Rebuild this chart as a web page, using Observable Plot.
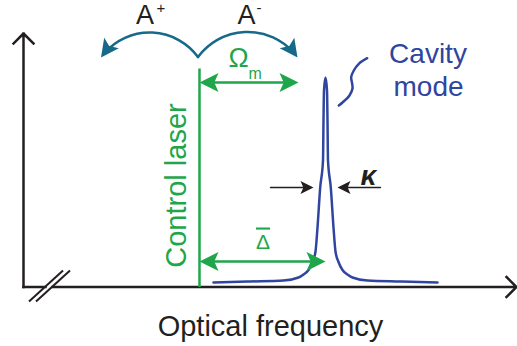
<!DOCTYPE html>
<html><head><meta charset="utf-8">
<script src="https://cdn.jsdelivr.net/npm/d3@7"></script>
<script src="https://cdn.jsdelivr.net/npm/@observablehq/plot@0.6"></script>
<style>body{margin:0;background:#fff}</style>
</head><body><div id="chart"></div>
<script>
// Units: optical frequency offset from the axis origin (x), amplitude above the axis (y)
// Cavity-mode resonance
const modeFreq = [190, 227, 260, 275, 280, 285, 289, 292, 294, 296.7, 299.5, 300, 300.5, 302, 303.5, 304, 304.5, 307.3, 310, 312, 315, 319, 324, 329, 344, 377, 414];
const modeAmp  = [4.5, 5.5, 6.5, 9.5, 12.5, 17, 25, 35.5, 59.5, 99.5, 126.5, 166.5, 196.5, 209.5, 196.5, 166.5, 126.5, 99.5, 59.5, 35.5, 25, 17, 12.5, 9.5, 6.5, 5.5, 4.5];
// Leader squiggle to the "Cavity mode" label
const leaderFreq = [343.7, 335.3, 330.3, 327.7, 328.7, 329, 326, 319, 315.3];
const leaderAmp  = [228.8, 223.2, 216.5, 209.8, 203.2, 198.5, 191.5, 184.5, 181.5];
// Control laser
const laserFreq = 176;
const laserTop = 218.5;
// Mechanical frequency span (Ω_m) and detuning span (Δ̄)
const omegaSpan = [176, 275];
const omegaAmp = 204.5;
const detuningSpan = [176, 302];
const detuningAmp = 25.5;
// Linewidth (κ) arrows: tail and tip
const kappaTail = [247, 357];
const kappaTip = [290, 314];
const kappaAmp = 99.5;
// Sideband arcs A+ / A-
const arcStart = [174.5, 230];
const arcEndFreq = [77.5, 274];
const arcEndAmp = 229.5;
const arcBend = [-54, 54];
// Axes
const yAxisTop = 253.5;
const xAxisEnd = 493;
const breakGap = [22, 29];
const breakSlashFreq = [[5.5, 39.5], [12.5, 46.5]];
const breakSlashAmp = [-14.5, 16.5];
// Labels
const sidebandLabels = ["A", "A"];
const sidebandLabelFreq = [121.5, 223];
const sidebandLabelAmp = 263.5;
const sidebandSigns = ["+", "-"];
const sidebandSignFreq = [133, 233];
const sidebandSignAmp = 274;
const modeLabels = ["Cavity", "mode"];
const modeLabelFreq = [404.5, 405];
const modeLabelAmp = [224.5, 191.5];

const black = "#231f20", green = "#1fa64b", blue = "#2f45a0", teal = "#17698a";
const font = "'Liberation Sans', Arial, Helvetica, sans-serif";

const arrowHead = {
  draw(context, size) {
    const l = Math.sqrt(size / Math.PI);
    const w = l * 0.5;
    context.moveTo(0, 0);
    context.lineTo(-w, l);
    context.lineTo(0, l * 0.78);
    context.lineTo(w, l);
    context.closePath();
  }
};
const rot = (dx, dyScreen) => Math.atan2(dx, -dyScreen) * 180 / Math.PI;

const mode = modeFreq.map((f, i) => ({f, a: modeAmp[i]}));
const leader = leaderFreq.map((f, i) => ({f, a: leaderAmp[i]}));
const spans = [
  {f1: omegaSpan[0], f2: omegaSpan[1], a: omegaAmp},
  {f1: detuningSpan[0], f2: detuningSpan[1], a: detuningAmp}
];
const greenHeads = spans.flatMap(s => [
  {f: s.f1, a: s.a, r: rot(-1, 0)},
  {f: s.f2, a: s.a, r: rot(1, 0)}
]);
const kappa = kappaTail.map((t, i) => ({f1: t, f2: kappaTip[i], a: kappaAmp}));
const kappaHeads = kappa.map(k => ({f: k.f2, a: k.a, r: rot(Math.sign(k.f2 - k.f1), 0)}));
const arcs = arcEndFreq.map((f, i) => ({f1: arcStart[0], a1: arcStart[1], f2: f, a2: arcEndAmp, bend: arcBend[i]}));
const arcHeads = arcs.map(d => {
  const ang = Math.atan2(-(d.a2 - d.a1), d.f2 - d.f1) + d.bend * Math.PI / 180;
  return {f: d.f2, a: d.a2, r: rot(Math.cos(ang), Math.sin(ang))};
});
const xAxisParts = [{f1: 0, f2: breakGap[0]}];
const slashes = breakSlashFreq.map(s => ({f1: s[0], f2: s[1], a1: breakSlashAmp[0], a2: breakSlashAmp[1]}));

const chart = Plot.plot({
  width: 517, height: 346,
  margin: 0,
  x: {domain: [-23, 494], axis: null},
  y: {domain: [-59.5, 286.5], axis: null},
  style: {background: "white", fontFamily: font, overflow: "visible"},
  marks: [
    // axes
    Plot.arrow([0], {x1: 0, y1: 0, x2: 0, y2: yAxisTop, stroke: black, strokeWidth: 2.5, headAngle: 90, headLength: 8.5, strokeLinejoin: "miter", strokeLinecap: "square"}),
    Plot.arrow([0], {x1: breakGap[1], y1: 0, x2: xAxisEnd, y2: 0, stroke: black, strokeWidth: 2.5, headAngle: 90, headLength: 8.5, strokeLinejoin: "miter", strokeLinecap: "square"}),
    Plot.link(xAxisParts, {x1: "f1", x2: "f2", y1: 0, y2: 0, stroke: black, strokeWidth: 2.5, strokeLinecap: "square"}),
    Plot.link(slashes, {x1: "f1", x2: "f2", y1: "a1", y2: "a2", stroke: black, strokeWidth: 2}),
    // control laser
    Plot.link([laserFreq], {x1: d => d, x2: d => d, y1: 0, y2: laserTop, stroke: green, strokeWidth: 2.5}),
    // cavity mode
    Plot.line(mode, {x: "f", y: "a", curve: "monotone-x", stroke: blue, strokeWidth: 2.5}),
    Plot.line(leader, {x: "f", y: "a", curve: "catmull-rom", stroke: blue, strokeWidth: 2.5}),
    // green double arrows
    Plot.arrow(spans, {x1: "f1", x2: "f2", y1: "a", y2: "a", stroke: green, strokeWidth: 2.5, headLength: 0, insetStart: 12, insetEnd: 12}),
    Plot.dot(greenHeads, {x: "f", y: "a", rotate: "r", symbol: arrowHead, r: 19, fill: green, stroke: "none"}),
    // kappa arrows
    Plot.arrow(kappa, {x1: "f1", x2: "f2", y1: "a", y2: "a", stroke: black, strokeWidth: 1.4, headLength: 0, insetEnd: 8}),
    Plot.dot(kappaHeads, {x: "f", y: "a", rotate: "r", symbol: arrowHead, r: 13, fill: black, stroke: "none"}),
    // sideband arcs (one mark per arc: bend is a constant option)
    ...arcs.map(d => Plot.arrow([d], {x1: "f1", y1: "a1", x2: "f2", y2: "a2", bend: d.bend, stroke: teal, strokeWidth: 2.5, headLength: 0, insetEnd: 6})),
    Plot.dot(arcHeads, {x: "f", y: "a", rotate: "r", symbol: arrowHead, r: 18, fill: teal, stroke: "none"}),
    // labels
    Plot.text(sidebandLabels, {x: (d, i) => sidebandLabelFreq[i], y: sidebandLabelAmp, text: d => d, fontSize: 27, fill: black, lineAnchor: "bottom"}),
    Plot.text(sidebandSigns, {x: (d, i) => sidebandSignFreq[i], y: sidebandSignAmp, text: d => d, fontSize: 15, fill: black, textAnchor: "start", lineAnchor: "bottom"}),
    Plot.text(["Ω"], {x: 215, y: 220, text: d => d, fontSize: 27, fill: green, lineAnchor: "bottom"}),
    Plot.text(["m"], {x: 225, y: 208.5, text: d => d, fontSize: 16, fill: green, textAnchor: "start", lineAnchor: "bottom"}),
    Plot.text(["Control laser"], {x: 162, y: 101.5, text: d => d, fontSize: 29, fill: green, rotate: -90, lineAnchor: "bottom"}),
    Plot.text(["Δ"], {x: 239.5, y: 38.5, text: d => d, fontSize: 21, fill: green, lineAnchor: "bottom"}),
    Plot.text(["κ"], {x: 345, y: 102.5, text: d => d, fontSize: 28, fontWeight: "bold", fontStyle: "italic", fill: black, lineAnchor: "bottom"}),
    Plot.text(modeLabels, {x: (d, i) => modeLabelFreq[i], y: (d, i) => modeLabelAmp[i], text: d => d, fontSize: 28, fill: blue, lineAnchor: "bottom"}),
    Plot.text(["Optical frequency"], {x: 247, y: -48.5, text: d => d, fontSize: 29, fill: black, lineAnchor: "bottom"})
  ]
});
// Δ̄: the bar over the detuning symbol, drawn as a text overline
d3.select(chart).selectAll("text").filter(function () { return this.textContent === "Δ"; })
  .style("text-decoration", "overline");
document.getElementById("chart").appendChild(chart);
</script>
</body></html>
